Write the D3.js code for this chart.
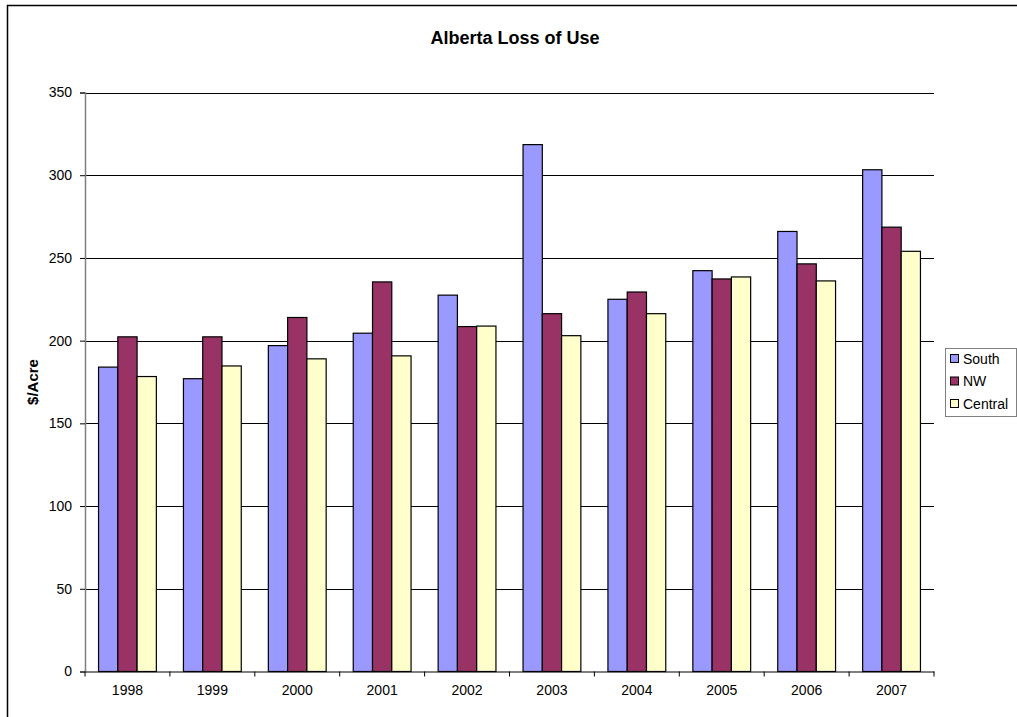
<!DOCTYPE html>
<html><head><meta charset="utf-8">
<script src="https://cdn.jsdelivr.net/npm/d3@7"></script>
<style>body{margin:0;background:#fff}svg{display:block}text{font-family:"Liberation Sans",Arial,sans-serif}</style>
</head><body>
<svg id="c" width="1017" height="717"></svg>
<script>
const years = ["1998","1999","2000","2001","2002","2003","2004","2005","2006","2007"];
const seriesNames = ["South","NW","Central"];
const south = [184, 177, 197, 204.5, 227.5, 318.5, 225, 242.3, 266, 303.3];
const nw = [202.3, 202.3, 214, 235.5, 208.5, 216.3, 229.4, 237.3, 246.4, 268.6];
const central = [178.3, 184.7, 189, 190.8, 208.8, 203, 216.3, 238.5, 236.1, 254];
const yTicks = [0, 50, 100, 150, 200, 250, 300, 350];
const colors = ["#9999FF", "#993366", "#FFFFCC"];

const svg = d3.select("#c");
const L = 85, R = 934, T = 92.5, B = 671.5;
const x = d3.scaleBand().domain(years).range([L, R]);
const bw = x.bandwidth() * 0.227;
const xs = d3.scaleBand().domain(seriesNames).range([0, bw * 3]);
const y = d3.scaleLinear().domain([0, 350]).range([B, T]);
const data = [south, nw, central];

// outer border
svg.append("rect").attr("x", 7.5).attr("y", 5.5).attr("width", 1030).attr("height", 730)
  .attr("fill", "none").attr("stroke", "#000").attr("stroke-width", 1.5);

// title
svg.append("text").attr("x", 515).attr("y", 43.5).attr("text-anchor", "middle")
  .attr("font-size", 18).attr("font-weight", "bold").text("Alberta Loss of Use");

// gridlines
svg.append("g").selectAll("line").data(yTicks.filter(d => d > 0)).join("line")
  .attr("x1", L).attr("x2", R).attr("y1", d => Math.round(y(d)) + 0.5).attr("y2", d => Math.round(y(d)) + 0.5)
  .attr("stroke", "#000").attr("stroke-width", 1);

// bars
const groupOffset = (x.bandwidth() - bw * 3) / 2;
seriesNames.forEach((s, si) => {
  svg.append("g").selectAll("rect").data(years).join("rect")
    .attr("x", (d) => x(d) + groupOffset + xs(s))
    .attr("y", (d, i) => y(data[si][i]))
    .attr("width", xs.bandwidth())
    .attr("height", (d, i) => B - y(data[si][i]))
    .attr("fill", colors[si]).attr("stroke", "#000").attr("stroke-width", 1.2);
});

// y axis
const ya = svg.append("g").attr("transform", `translate(${L},0)`)
  .call(d3.axisLeft(y).tickValues(yTicks).tickSize(5).tickPadding(8));
ya.select(".domain").attr("stroke", "#808080").attr("stroke-width", 1.5);
ya.selectAll(".tick line").attr("stroke", "#000");
ya.selectAll("text").attr("font-size", 14).attr("font-family", "Liberation Sans, Arial, sans-serif").attr("fill", "#000");

// x axis
const xa = svg.append("g").attr("transform", `translate(0,${B})`)
  .call(d3.axisBottom(x).tickSize(0).tickPadding(14));
xa.select(".domain").attr("stroke", "#000").attr("stroke-width", 1.2);
xa.selectAll("text").attr("font-size", 14).attr("font-family", "Liberation Sans, Arial, sans-serif").attr("fill", "#000");
const bounds = years.map(d => x(d)).concat([R]);
svg.append("g").selectAll("line").data(bounds).join("line")
  .attr("x1", d => d).attr("x2", d => d).attr("y1", B).attr("y2", B + 5)
  .attr("stroke", "#000");

// y label
svg.append("text").attr("transform", `translate(38,${(T + B) / 2}) rotate(-90)`)
  .attr("text-anchor", "middle").attr("font-size", 15).attr("font-weight", "bold").text("$/Acre");

// legend
const lg = svg.append("g");
lg.append("rect").attr("x", 945.5).attr("y", 348.5).attr("width", 71).attr("height", 68)
  .attr("fill", "#fff").attr("stroke", "#808080").attr("stroke-width", 1);
seriesNames.forEach((s, i) => {
  const cy = 358 + i * 22.5;
  lg.append("rect").attr("x", 950.5).attr("y", cy - 3.5).attr("width", 8).attr("height", 8)
    .attr("fill", colors[i]).attr("stroke", "#000");
  lg.append("text").attr("x", 963).attr("y", cy + 5.5).attr("font-size", 14).text(s);
});
</script>
</body></html>
